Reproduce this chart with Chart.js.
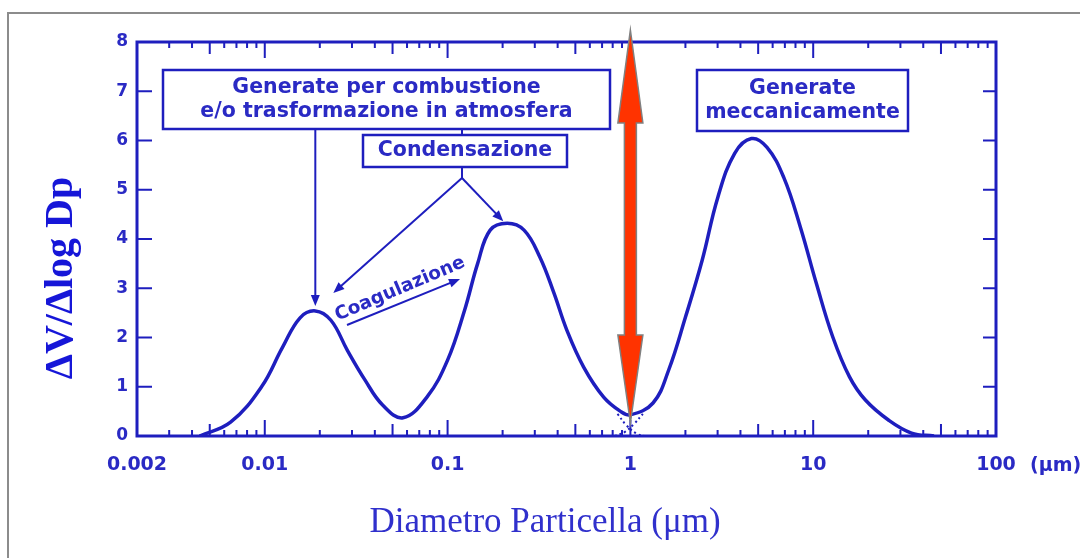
<!DOCTYPE html>
<html>
<head>
<meta charset="utf-8">
<script src="https://cdn.jsdelivr.net/npm/chart.js@4.4.1/dist/chart.umd.min.js"></script>
<style>
  html, body { margin: 0; padding: 0; background: #fff; }
  canvas { display: block; }
</style>
</head>
<body>
<canvas id="chart" width="1080" height="558"></canvas>
<script>
// diametro particella (µm) e ΔV/Δlog Dp
const diametri = [0.0044, 0.0065, 0.0096, 0.0125, 0.0156, 0.0189, 0.023, 0.0283, 0.0353, 0.0441,
    0.0571, 0.0771, 0.1, 0.124, 0.146, 0.171, 0.212, 0.262, 0.32, 0.382,
    0.449, 0.555, 0.714, 0.883, 1.0, 1.33, 1.62, 2.0, 2.47, 3.01,
    3.72, 4.59, 5.59, 6.9, 8.51, 10.4, 12.8, 15.8, 19.3, 25.9,
    34.5, 45.8];
const volumi = [0, 0.28, 1.0, 1.8, 2.4, 2.54, 2.35, 1.74, 1.14, 0.63,
    0.37, 0.79, 1.54, 2.56, 3.5, 4.18, 4.32, 4.18, 3.63, 2.9,
    2.15, 1.4, 0.79, 0.5, 0.43, 0.67, 1.34, 2.41, 3.57, 4.85,
    5.74, 6.04, 5.86, 5.25, 4.24, 3.1, 2.01, 1.2, 0.73, 0.32,
    0.06, 0];

// code tratteggiate che si incrociano sotto il minimo a 1 µm
const codaFineX = [0.85, 0.95, 1.08, 1.2];
const codaFineY = [0.45, 0.22, 0.05, 0];
const codaGrossaX = [0.82, 0.93, 1.05, 1.17];
const codaGrossaY = [0, 0.08, 0.25, 0.45];

const xTickVals = [0.002, 0.01, 0.1, 1, 10, 100];
const xTickLabels = ['0.002', '0.01', '0.1', '1', '10', '100'];
const yTickVals = [0, 1, 2, 3, 4, 5, 6, 7, 8];

const BLU = '#1e1ebe';
const TESTO = '#2a2ac4';

const punti = (xs, ys) => xs.map((v, i) => ({ x: v, y: ys[i] }));

function freccia(ctx, x1, y1, x2, y2) {
    const a = Math.atan2(y2 - y1, x2 - x1);
    const c = Math.cos(a), s = Math.sin(a);
    const L = 11, W = 4.5;
    ctx.beginPath();
    ctx.moveTo(x1, y1);
    ctx.lineTo(x2 - c * L * 0.7, y2 - s * L * 0.7);
    ctx.stroke();
    ctx.beginPath();
    ctx.moveTo(x2, y2);
    ctx.lineTo(x2 - c * L + s * W, y2 - s * L - c * W);
    ctx.lineTo(x2 - c * L - s * W, y2 - s * L + c * W);
    ctx.closePath();
    ctx.fill();
}

function riquadro(ctx, x, y, w, h, righe) {
    ctx.fillStyle = '#fff';
    ctx.fillRect(x, y, w, h);
    ctx.lineWidth = 2.5;
    ctx.strokeRect(x, y, w, h);
    ctx.fillStyle = TESTO;
    ctx.font = 'bold 20.5px "DejaVu Sans"';
    ctx.textAlign = 'center';
    ctx.textBaseline = 'middle';
    const passo = 24;
    const y0 = y + h / 2 - (righe.length - 1) * passo / 2;
    righe.forEach((r, i) => ctx.fillText(r, x + w / 2, y0 + i * passo));
}

// cornice grigia, riquadro del grafico e tacche rivolte verso l'interno
const cornice = {
    id: 'cornice',
    beforeDraw(chart) {
        const ctx = chart.ctx;
        ctx.save();
        ctx.strokeStyle = '#8c8c8c';
        ctx.lineWidth = 2;
        ctx.beginPath();
        ctx.moveTo(8, 558);
        ctx.lineTo(8, 13);
        ctx.lineTo(1080, 13);
        ctx.stroke();
        ctx.restore();
    },
    beforeDatasetsDraw(chart) {
        const { ctx, chartArea: a, scales: { x, y } } = chart;
        ctx.save();
        ctx.strokeStyle = BLU;
        ctx.lineWidth = 2;
        ctx.beginPath();
        yTickVals.forEach(v => {
            const py = y.getPixelForValue(v);
            ctx.moveTo(a.left, py); ctx.lineTo(a.left + 15, py);
            ctx.moveTo(a.right, py); ctx.lineTo(a.right - 13, py);
        });
        for (let e = -3; e <= 2; e++) {
            for (let k = 1; k <= 9; k++) {
                const v = k * Math.pow(10, e);
                if (v < x.min * 0.999 || v > x.max * 1.001) continue;
                const px = x.getPixelForValue(v);
                const len = k === 1 ? 16 : (k === 5 ? 12 : 6);
                ctx.moveTo(px, a.bottom); ctx.lineTo(px, a.bottom - len);
                ctx.moveTo(px, a.top); ctx.lineTo(px, a.top + len);
            }
        }
        ctx.stroke();
        ctx.lineWidth = 3;
        ctx.strokeRect(a.left, a.top, a.width, a.height);
        ctx.restore();
    }
};

// riquadri, frecce, freccia rossa e titoli degli assi
const note = {
    id: 'note',
    afterDraw(chart) {
        const { ctx, chartArea: a, scales: { x, y } } = chart;
        ctx.save();
        ctx.strokeStyle = BLU;
        ctx.fillStyle = BLU;

        riquadro(ctx, 163, 70, 447, 59, ['Generate per combustione', 'e/o trasformazione in atmosfera']);
        riquadro(ctx, 363, 135, 204, 32, ['Condensazione']);
        riquadro(ctx, 697, 70, 211, 61, ['Generate', 'meccanicamente']);

        const p1x = x.getPixelForValue(diametri[5]);
        const p1y = y.getPixelForValue(volumi[5]);
        const p2x = x.getPixelForValue(diametri[16]);
        const p2y = y.getPixelForValue(volumi[16]);

        ctx.strokeStyle = BLU;
        ctx.fillStyle = BLU;
        ctx.lineWidth = 2;
        freccia(ctx, p1x, 129, p1x, p1y - 5);
        ctx.beginPath();
        ctx.moveTo(462, 129); ctx.lineTo(462, 135);
        ctx.moveTo(462, 167); ctx.lineTo(462, 178);
        ctx.stroke();
        freccia(ctx, 462, 178, p1x + 18, p1y - 18);
        freccia(ctx, 462, 178, p2x - 4, p2y - 2);
        freccia(ctx, 347, 325, 460, 279);

        ctx.save();
        ctx.translate(400, 289);
        ctx.rotate(-23 * Math.PI / 180);
        ctx.font = 'bold 18.5px "DejaVu Sans"';
        ctx.fillStyle = TESTO;
        ctx.textAlign = 'center';
        ctx.textBaseline = 'middle';
        ctx.fillText('Coagulazione', 0, 0);
        ctx.restore();

        // freccia rossa a 1 µm
        const cx = x.getPixelForValue(1);
        const top = a.top - 12, bot = a.bottom - 13;
        ctx.beginPath();
        ctx.moveTo(cx, top);
        ctx.lineTo(cx + 12.5, 123);
        ctx.lineTo(cx + 6, 123);
        ctx.lineTo(cx + 6, 335);
        ctx.lineTo(cx + 12.5, 335);
        ctx.lineTo(cx, bot);
        ctx.lineTo(cx - 12.5, 335);
        ctx.lineTo(cx - 6, 335);
        ctx.lineTo(cx - 6, 123);
        ctx.lineTo(cx - 12.5, 123);
        ctx.closePath();
        ctx.fillStyle = '#ff3300';
        ctx.fill();
        ctx.strokeStyle = '#808080';
        ctx.lineWidth = 1.5;
        ctx.stroke();

        // unità dopo l'ultima etichetta
        ctx.font = 'bold 19px "DejaVu Sans"';
        ctx.fillStyle = TESTO;
        ctx.textAlign = 'left';
        ctx.textBaseline = 'middle';
        ctx.fillText('(μm)', x.getPixelForValue(100) + 34, 466);

        // titoli assi
        ctx.save();
        ctx.translate(72, 278);
        ctx.rotate(-Math.PI / 2);
        ctx.font = 'bold 40px "Liberation Serif"';
        ctx.fillStyle = '#1616d8';
        ctx.textAlign = 'center';
        ctx.textBaseline = 'alphabetic';
        ctx.fillText('ΔV/Δlog Dp', 0, 0);
        ctx.restore();

        ctx.font = '35px "Liberation Serif"';
        ctx.fillStyle = '#3030cc';
        ctx.textAlign = 'center';
        ctx.textBaseline = 'alphabetic';
        ctx.fillText('Diametro Particella (μm)', 545, 532);
        ctx.restore();
    }
};

new Chart(document.getElementById('chart'), {
    type: 'line',
    data: {
        datasets: [{
            label: 'ΔV/Δlog Dp',
            data: punti(diametri, volumi),
            borderColor: BLU,
            borderWidth: 3.5,
            pointRadius: 0,
            tension: 0.4
        }, {
            label: 'coda fine',
            data: punti(codaFineX, codaFineY),
            borderColor: BLU,
            borderWidth: 2,
            borderDash: [2, 3],
            pointRadius: 0,
            tension: 0.4
        }, {
            label: 'coda grossa',
            data: punti(codaGrossaX, codaGrossaY),
            borderColor: BLU,
            borderWidth: 2,
            borderDash: [2, 3],
            pointRadius: 0,
            tension: 0.4
        }]
    },
    options: {
        responsive: false,
        animation: false,
        layout: { padding: { left: 0, top: 42, right: 84, bottom: 0 } },
        plugins: {
            legend: { display: false },
            tooltip: { enabled: false }
        },
        scales: {
            x: {
                type: 'logarithmic',
                min: 0.002,
                max: 100,
                grid: { display: false, drawTicks: false },
                border: { display: false },
                afterBuildTicks: axis => { axis.ticks = xTickVals.map(v => ({ value: v })); },
                afterFit: s => { s.height = 122; },
                ticks: {
                    autoSkip: false,
                    maxRotation: 0,
                    padding: 18,
                    color: TESTO,
                    font: { family: 'DejaVu Sans', size: 19, weight: 'bold' },
                    callback: (v, i) => xTickLabels[i]
                }
            },
            y: {
                min: 0,
                max: 8,
                grid: { display: false, drawTicks: false },
                border: { display: false },
                afterFit: s => { s.width = 137; },
                ticks: {
                    stepSize: 1,
                    padding: 9,
                    color: TESTO,
                    font: { family: 'DejaVu Sans', size: 17, weight: 'bold' }
                }
            }
        }
    },
    plugins: [cornice, note]
});
</script>
</body>
</html>
